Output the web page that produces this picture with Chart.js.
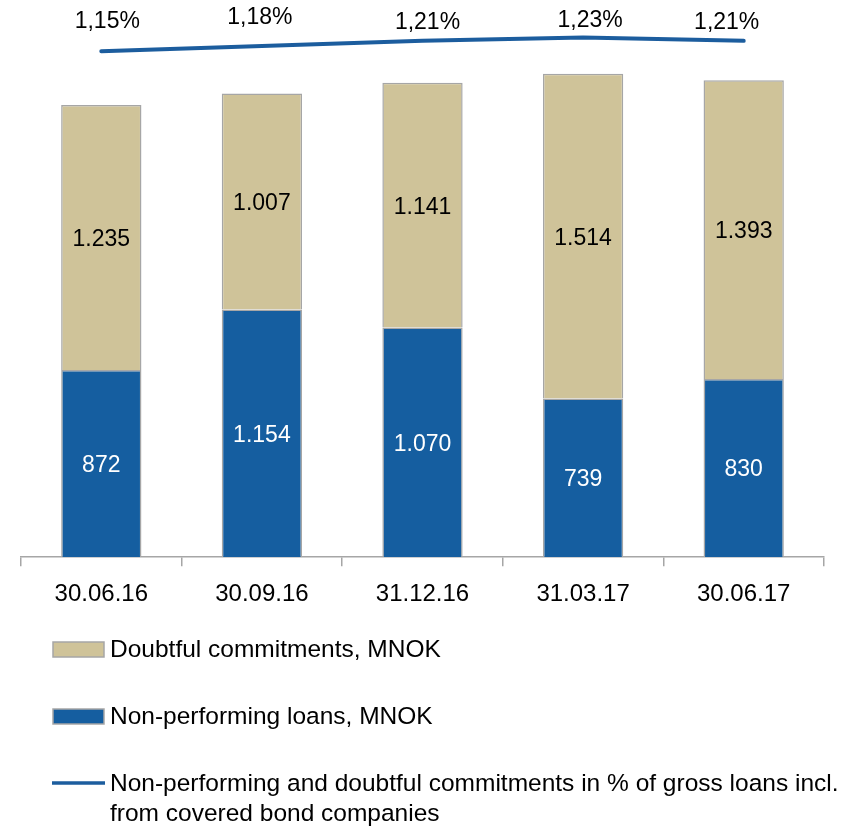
<!DOCTYPE html>
<html>
<head>
<meta charset="utf-8">
<title>Non-performing and doubtful commitments</title>
<script src="https://cdn.jsdelivr.net/npm/chart.js@4.4.1/dist/chart.umd.min.js"></script>
<style>
    html, body { margin: 0; padding: 0; background: #fff; }
    #wrap { width: 851px; height: 827px; }
</style>
</head>
<body>
<div id="wrap"><canvas id="npl" width="851" height="827"></canvas></div>
<script>
const QUARTERS = ['30.06.16', '30.09.16', '31.12.16', '31.03.17', '30.06.17'];
const NON_PERFORMING = [872, 1154, 1070, 739, 830];      // MNOK
const DOUBTFUL = [1235, 1007, 1141, 1514, 1393];          // MNOK
const SHARE_OF_LOANS = [1.15, 1.18, 1.21, 1.23, 1.21];    // % of gross loans

const LABEL_DOUBTFUL = 'Doubtful commitments, MNOK';
const LABEL_NPL = 'Non-performing loans, MNOK';
const LABEL_SHARE = ['Non-performing and doubtful commitments in % of gross loans incl.', 'from covered bond companies'];

const FONT = "'Liberation Sans', Arial, sans-serif";
const BLUE = '#155ea0';
const TAN = '#cfc399';
const GREY = '#a6a6a6';

const fmtThousands = v => String(v).replace(/\B(?=(\d{3})+(?!\d))/g, '.');
const fmtPct = v => v.toFixed(2).replace('.', ',') + '%';

{
    // values written in the middle of every bar segment
    const barValues = {
        id: 'barValues',
        afterDatasetsDraw(chart) {
            const ctx = chart.ctx;
            ctx.save();
            ctx.font = `23px ${FONT}`;
            ctx.textAlign = 'center';
            ctx.textBaseline = 'middle';
            chart.data.datasets.forEach((ds, i) => {
                if (ds.type === 'line') return;
                chart.getDatasetMeta(i).data.forEach((bar, j) => {
                    ctx.fillStyle = ds.valueColor;
                    ctx.fillText(fmtThousands(ds.data[j]), bar.x, (bar.y + bar.base) / 2 + 2);
                });
            });
            ctx.restore();
        }
    };

    // percentage labels above the line, nudged a bit per point
    const lineValues = {
        id: 'lineValues',
        afterDatasetsDraw(chart, args, opts) {
            const ctx = chart.ctx;
            ctx.save();
            ctx.font = `23px ${FONT}`;
            ctx.textAlign = 'center';
            ctx.textBaseline = 'middle';
            ctx.fillStyle = '#000';
            chart.data.datasets.forEach((ds, i) => {
                if (ds.type !== 'line') return;
                chart.getDatasetMeta(i).data.forEach((pt, j) => {
                    const [dx, dy] = opts.offsets[j];
                    ctx.fillText(fmtPct(ds.data[j]), pt.x + dx, pt.y + dy);
                });
            });
            ctx.restore();
        }
    };

    // legend stacked vertically under the axis
    const stackedLegend = {
        id: 'stackedLegend',
        afterDraw(chart, args, opts) {
            const ctx = chart.ctx;
            const sets = chart.data.datasets;
            ctx.save();
            ctx.font = `24.5px ${FONT}`;
            ctx.textAlign = 'left';
            ctx.textBaseline = 'middle';
            opts.order.forEach((idx, row) => {
                const ds = sets[idx];
                const y = opts.rows[row];
                if (ds.type === 'line') {
                    ctx.strokeStyle = ds.borderColor;
                    ctx.lineWidth = 3.5;
                    ctx.beginPath();
                    ctx.moveTo(52, y);
                    ctx.lineTo(105, y);
                    ctx.stroke();
                } else {
                    ctx.fillStyle = ds.backgroundColor;
                    ctx.fillRect(53, y - 7, 51, 15);
                    ctx.strokeStyle = GREY;
                    ctx.lineWidth = 1.5;
                    ctx.strokeRect(53, y - 7, 51, 15);
                }
                ctx.fillStyle = '#000';
                [].concat(ds.label).forEach((line, k) => ctx.fillText(line, 110, y + 1 + k * 30));
            });
            ctx.restore();
        }
    };

    document.addEventListener('DOMContentLoaded', () => {
        new Chart(document.getElementById('npl'), {
            data: {
                labels: QUARTERS,
                datasets: [
                    {
                        type: 'bar',
                        label: LABEL_NPL,
                        data: NON_PERFORMING,
                        backgroundColor: BLUE,
                        borderColor: GREY,
                        borderWidth: 1.5,
                        valueColor: '#fff',
                        order: 1
                    },
                    {
                        type: 'bar',
                        label: LABEL_DOUBTFUL,
                        data: DOUBTFUL,
                        backgroundColor: TAN,
                        borderColor: GREY,
                        borderWidth: 1.5,
                        valueColor: '#000',
                        order: 1
                    },
                    {
                        type: 'line',
                        label: LABEL_SHARE,
                        data: SHARE_OF_LOANS,
                        yAxisID: 'y2',
                        borderColor: '#1c5d9e',
                        borderWidth: 4,
                        borderCapStyle: 'round',
                        pointRadius: 0,
                        tension: 0,
                        order: 0
                    }
                ]
            },
            options: {
                responsive: false,
                animation: false,
                barPercentage: 0.5,
                categoryPercentage: 1,
                layout: { padding: { left: 21, right: 27, top: 10, bottom: 204 } },
                scales: {
                    x: {
                        stacked: true,
                        grid: { drawOnChartArea: false, drawTicks: true, tickLength: 9, color: GREY, lineWidth: 1.5 },
                        border: { display: true, color: GREY, width: 1.5 },
                        ticks: { color: '#000', font: { family: FONT, size: 24 }, padding: 14 }
                    },
                    y: { display: false, stacked: true, min: 0, max: 2550 },
                    y2: { display: false, min: -1.803, max: 1.39 }
                },
                plugins: {
                    legend: { display: false },
                    tooltip: { enabled: false },
                    lineValues: { offsets: [[6, -29], [-2, -28], [5, -18], [7, -17], [-17, -18]] },
                    stackedLegend: { order: [1, 0, 2], rows: [649, 716, 783] }
                }
            },
            plugins: [barValues, lineValues, stackedLegend]
        });
    });
}
</script>
</body>
</html>
